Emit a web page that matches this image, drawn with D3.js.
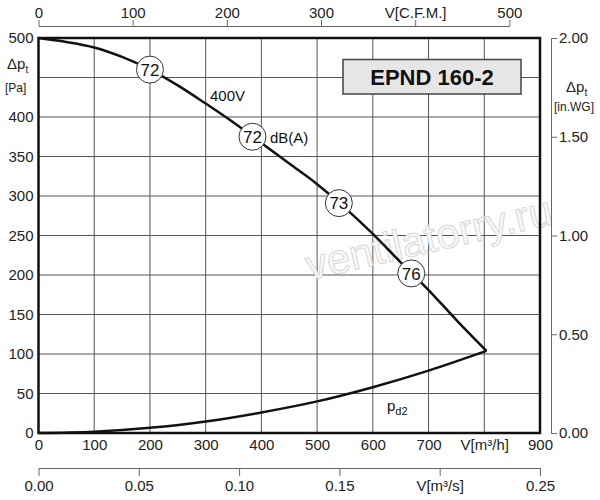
<!DOCTYPE html>
<html>
<head>
<meta charset="utf-8">
<script src="https://cdn.jsdelivr.net/npm/d3@7"></script>
<style>
  body { margin: 0; background: #fff; }
  svg { font-family: "Liberation Sans", Arial, sans-serif; }
  .tick text { font-size: 15px; fill: #222; }
</style>
</head>
<body>
<div id="chart"></div>
<script>
// Fan curve (400V), flow in m3/h, total pressure in Pa
const fanFlow = [0, 50, 100, 150, 200, 250, 300, 350, 400, 450, 500, 550, 600, 650, 700, 750, 804];
const fanPressure = [500, 495, 488, 476, 460, 440, 417, 393, 367, 341, 315, 285, 252, 216, 181, 143, 104];

// Dynamic pressure curve pd2
const pdFlow = [0, 100, 200, 300, 400, 500, 600, 700, 804];
const pdPressure = [0, 1.6, 6.5, 14.5, 26, 40, 58, 79, 104];

// Sound level markers on the fan curve
const markerFlow = [200, 384, 539, 669];
const markerPressure = [460, 375, 291, 202];
const markerLabel = ['72', '72', '73', '76'];

// Tick values (450 Pa is left unlabelled in the original)
const flowTicks = [0, 100, 200, 300, 400, 500, 600, 700, 800, 900];
const pressureGrid = [0, 50, 100, 150, 200, 250, 300, 350, 400, 450, 500];
const pressureLabels = [0, 50, 100, 150, 200, 250, 300, 350, 400, 500];
const cfmTicks = [0, 100, 200, 300, 400, 500];
const m3sTicks = [0, 0.05, 0.10, 0.15, 0.20, 0.25];
const inwgTicks = [0, 0.5, 1.0, 1.5, 2.0];

const width = 600, height = 500;
const plotLeft = 38.5, plotRight = 540, plotTop = 38, plotBottom = 433;
const cfmToM3h = 1.69;

const svg = d3.select('#chart').append('svg')
    .attr('width', width)
    .attr('height', height);

const x = d3.scaleLinear().domain([0, 900]).range([plotLeft, plotRight]);
const y = d3.scaleLinear().domain([0, 500]).range([plotBottom, plotTop]);
const xCfm = d3.scaleLinear().domain([0, 500]).range([plotLeft, x(500 * cfmToM3h)]);
const xM3s = d3.scaleLinear().domain([0, 0.25]).range([plotLeft, plotRight]);
const yInwg = d3.scaleLinear().domain([0, 2]).range([plotBottom, plotTop]);

// Grid
const grid = svg.append('g').attr('stroke', '#555').attr('stroke-width', 1);
grid.selectAll('.vg')
    .data(flowTicks.slice(1, -1))
    .enter().append('line')
    .attr('x1', d => x(d)).attr('x2', d => x(d))
    .attr('y1', plotTop).attr('y2', plotBottom);
grid.selectAll('.hg')
    .data(pressureGrid.slice(1, -1))
    .enter().append('line')
    .attr('x1', plotLeft).attr('x2', plotRight)
    .attr('y1', d => y(d)).attr('y2', d => y(d));

// Watermark
svg.append('text')
    .attr('transform', 'translate(432,252) rotate(-13)')
    .attr('text-anchor', 'middle')
    .attr('font-size', 42)
    .attr('fill', '#fbfbfb')
    .attr('stroke', '#d6d6d6')
    .attr('stroke-width', 1)
    .text('ventilatorry.ru');

// Title box
svg.append('rect')
    .attr('x', 343).attr('y', 59.5)
    .attr('width', 178).attr('height', 34.5)
    .attr('fill', '#e6e6e6')
    .attr('stroke', '#444')
    .attr('stroke-width', 1.5);
svg.append('text')
    .attr('x', 432).attr('y', 85)
    .attr('text-anchor', 'middle')
    .attr('font-size', 22)
    .attr('font-weight', 'bold')
    .attr('fill', '#111')
    .text('EPND 160-2');

// Curves
const line = d3.line()
    .x(d => x(d[0]))
    .y(d => y(d[1]))
    .curve(d3.curveMonotoneX);

svg.append('path')
    .datum(fanFlow.map((f, i) => [f, fanPressure[i]]))
    .attr('d', line)
    .attr('fill', 'none')
    .attr('stroke', '#111')
    .attr('stroke-width', 2.5);

svg.append('path')
    .datum(pdFlow.map((f, i) => [f, pdPressure[i]]))
    .attr('d', line)
    .attr('fill', 'none')
    .attr('stroke', '#111')
    .attr('stroke-width', 2.5);

// Markers
const markers = svg.selectAll('.marker')
    .data(markerFlow.map((f, i) => ({ f, p: markerPressure[i], label: markerLabel[i] })))
    .enter().append('g')
    .attr('transform', d => `translate(${x(d.f)},${y(d.p)})`);
markers.append('circle')
    .attr('r', 13.5)
    .attr('fill', '#fff')
    .attr('stroke', '#333')
    .attr('stroke-width', 1);
markers.append('text')
    .attr('text-anchor', 'middle')
    .attr('dy', '0.36em')
    .attr('font-size', 17)
    .attr('fill', '#111')
    .text(d => d.label);

// Curve labels
svg.append('text').attr('x', 210).attr('y', 101)
    .attr('font-size', 15).attr('fill', '#111').text('400V');
svg.append('text').attr('x', 270).attr('y', 143)
    .attr('font-size', 15).attr('fill', '#111').text('dB(A)');
const pd = svg.append('text').attr('x', 387).attr('y', 411)
    .attr('font-size', 15).attr('fill', '#111');
pd.append('tspan').text('p');
pd.append('tspan').attr('font-size', 11).attr('dy', 4).text('d2');

// Plot border
svg.append('rect')
    .attr('x', plotLeft).attr('y', plotTop)
    .attr('width', plotRight - plotLeft).attr('height', plotBottom - plotTop)
    .attr('fill', 'none')
    .attr('stroke', '#111')
    .attr('stroke-width', 2.5);

// Left axis (Pa)
const yAxis = svg.append('g')
    .attr('transform', `translate(${plotLeft},0)`)
    .call(d3.axisLeft(y).tickValues(pressureLabels).tickSize(0).tickPadding(5));
yAxis.select('.domain').remove();

// Bottom axis (m3/h)
const xAxis = svg.append('g')
    .attr('transform', `translate(0,${plotBottom})`)
    .call(d3.axisBottom(x).tickValues(flowTicks).tickSize(0).tickPadding(6)
        .tickFormat(d => d === 800 ? 'V[m³/h]' : d));
xAxis.select('.domain').remove();

// Top axis (CFM)
const cfmAxis = svg.append('g')
    .attr('transform', 'translate(0,26)')
    .call(d3.axisTop(xCfm).tickValues(cfmTicks).tickSize(6).tickSizeOuter(0).tickPadding(2)
        .tickFormat(d => d === 400 ? 'V[C.F.M.]' : d));

// Bottom axis (m3/s)
const m3sAxis = svg.append('g')
    .attr('transform', 'translate(0,468)')
    .call(d3.axisBottom(xM3s).tickValues(m3sTicks).tickSize(8).tickSizeOuter(0).tickPadding(4)
        .tickFormat(d => Math.abs(d - 0.2) < 1e-9 ? 'V[m³/s]' : d3.format('.2f')(d)));

// Right axis (in.WG)
const wgAxis = svg.append('g')
    .attr('transform', 'translate(551,0)')
    .call(d3.axisRight(yInwg).tickValues(inwgTicks).tickSize(6).tickSizeOuter(0).tickPadding(2)
        .tickFormat(d3.format('.2f')));

[cfmAxis, m3sAxis, wgAxis].forEach(a => {
    a.selectAll('.domain, .tick line').attr('stroke', '#666').attr('stroke-width', 1);
});

// Axis titles
const leftTitle = svg.append('text').attr('x', 7).attr('y', 69)
    .attr('font-size', 15).attr('fill', '#222');
leftTitle.append('tspan').text('Δp');
leftTitle.append('tspan').attr('font-size', 10).attr('dy', 4).text('t');
svg.append('text').attr('x', 5).attr('y', 92)
    .attr('font-size', 12).attr('fill', '#222').text('[Pa]');

const rightTitle = svg.append('text').attr('x', 566).attr('y', 92)
    .attr('font-size', 15).attr('fill', '#222');
rightTitle.append('tspan').text('Δp');
rightTitle.append('tspan').attr('font-size', 10).attr('dy', 4).text('t');
svg.append('text').attr('x', 574).attr('y', 111)
    .attr('text-anchor', 'middle')
    .attr('font-size', 12).attr('fill', '#222').text('[in.WG]');
</script>
</body>
</html>
